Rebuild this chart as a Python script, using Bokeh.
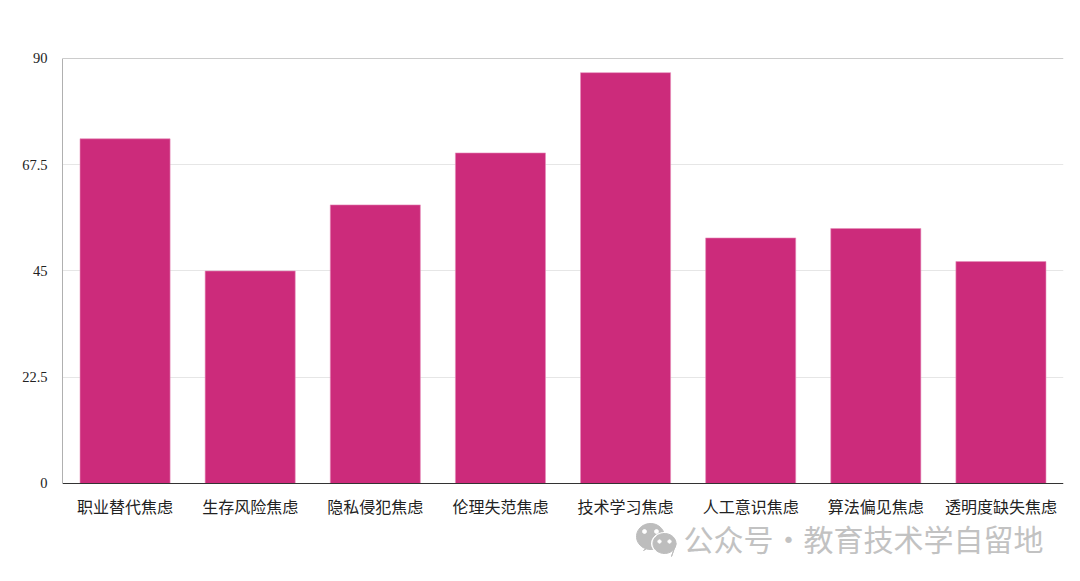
import numpy as np
from bokeh.plotting import figure
from bokeh.models import FixedTicker, Label, PolyAnnotation, ColumnDataSource, FactorRange, Range1d, Span
from bokeh.embed import file_html
from bokeh.resources import INLINE

categories = ["职业替代焦虑", "生存风险焦虑", "隐私侵犯焦虑", "伦理失范焦虑",
              "技术学习焦虑", "人工意识焦虑", "算法偏见焦虑", "透明度缺失焦虑"]
values = [73, 45, 59, 70, 87, 52, 54, 47]
y_ticks = [0, 22.5, 45, 67.5, 90]
y_tick_labels = {0: "0", 22.5: "22.5", 45: "45", 67.5: "67.5", 90: "90"}
watermark_parts = ["公众号", "·", "教育技术学自留地"]

src = ColumnDataSource(dict(cat=categories, val=values))

# The frame runs below zero so the bottom axis and watermark sit inside it
p = figure(width=1072, height=573, output_backend="svg", toolbar_location=None,
           x_range=FactorRange(factors=categories, range_padding=0, factor_padding=0),
           y_range=Range1d(-19.06, 90.21),
           min_border_left=62, min_border_right=9, min_border_top=57, min_border_bottom=0)
p.outline_line_color = None
p.background_fill_color = "white"
p.border_fill_color = "white"

p.vbar(x="cat", top="val", width=0.72, source=src, fill_color="#cc2b7b",
       line_color="#e58fbb", line_width=0.6)

p.xgrid.grid_line_color = None
p.ygrid.ticker = FixedTicker(ticks=y_ticks[1:-1])
p.ygrid.grid_line_color = "#e6e6e6"
p.ygrid.grid_line_width = 1
p.add_layout(Span(location=y_ticks[-1], dimension="width", line_color="#cccccc", line_width=1))

ya = p.yaxis[0]
ya.ticker = FixedTicker(ticks=y_ticks)
ya.major_label_overrides = y_tick_labels
ya.bounds = (0, 90)
ya.major_tick_line_color = None
ya.minor_tick_line_color = None
ya.axis_line_color = "#b0b0b0"
ya.major_label_text_font = "Liberation Serif"
ya.major_label_text_font_size = "14.5px"
ya.major_label_text_color = "#222222"
ya.major_label_standoff = 9

xa = p.xaxis[0]
xa.fixed_location = 0
xa.major_tick_line_color = None
xa.minor_tick_line_color = None
xa.axis_line_color = "#333333"
xa.major_label_text_font = "Noto Sans CJK SC"
xa.major_label_text_font_size = "16px"
xa.major_label_text_color = "#222222"
xa.major_label_standoff = 5
xa.major_label_orientation = "horizontal"

# watermark, placed in canvas pixels (top-down)
def add_poly(cx, cy, rx, ry, color, tail=None):
    t = np.linspace(0, 2 * np.pi, 48)
    xs = list(cx + rx * np.cos(t))
    ys = list(cy + ry * np.sin(t))
    if tail:
        xs.append(tail[0])
        ys.append(tail[1])
    p.add_layout(PolyAnnotation(xs=xs, ys=ys, xs_units="canvas", ys_units="canvas",
                                fill_color=color, fill_alpha=1, line_color=color, line_alpha=1,
                                level="overlay"))

add_poly(650, 536, 14, 13, "#bdbdbd", (643, 550))
for ex in (644, 656):
    add_poly(ex, 531, 2, 2, "white")
add_poly(664, 543, 13, 11, "#ffffff")
add_poly(664, 543, 11.5, 10, "#bdbdbd", (671, 556))
for ex in (659, 669):
    add_poly(ex, 541, 1.7, 1.7, "white")

for text, x in zip(watermark_parts, [683, 773, 803]):
    p.add_layout(Label(x=x, y=537, x_units="canvas", y_units="canvas", text=text,
                       text_font="Noto Sans CJK SC", text_font_size="30px",
                       text_color="#c2c2c2", text_align="left", text_baseline="middle"))

open("out.html", "w").write(file_html(p, INLINE))
